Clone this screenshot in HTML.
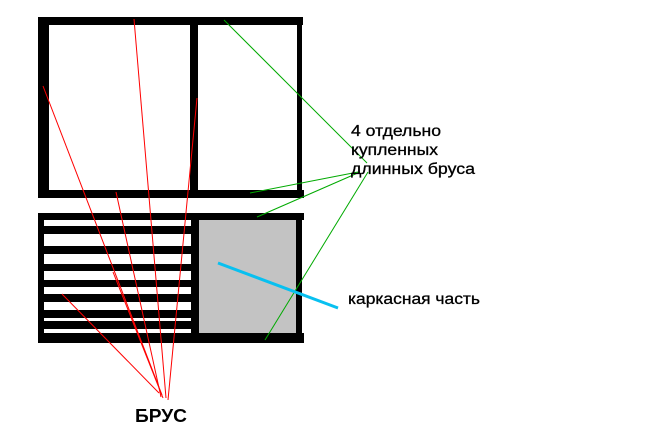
<!DOCTYPE html>
<html><head><meta charset="utf-8"><style>
body{margin:0;background:#fff;width:663px;height:448px;overflow:hidden}
svg{display:block}
text{font-family:"Liberation Sans",Arial,sans-serif}
</style></head><body>
<svg width="663" height="448" viewBox="0 0 663 448">
<rect width="663" height="448" fill="#fff"/>
<rect x="38" y="17" width="265" height="8" fill="#000"/>
<rect x="38" y="190" width="266" height="8" fill="#000"/>
<rect x="38" y="17" width="11" height="181" fill="#000"/>
<rect x="190" y="17" width="8" height="181" fill="#000"/>
<rect x="297" y="17" width="5" height="181" fill="#000"/>
<rect x="199" y="220" width="97" height="113" fill="#c3c3c3"/>
<rect x="38" y="213" width="266" height="7" fill="#000"/>
<rect x="38" y="333" width="266" height="10" fill="#000"/>
<rect x="38" y="213" width="6" height="130" fill="#000"/>
<rect x="191" y="213" width="8" height="130" fill="#000"/>
<rect x="296" y="213" width="6" height="130" fill="#000"/>
<g fill="#000">
<rect x="38" y="226" width="155" height="8"/>
<rect x="38" y="246" width="155" height="8"/>
<rect x="38" y="264" width="155" height="7"/>
<rect x="38" y="280" width="155" height="7"/>
<rect x="38" y="294" width="155" height="8"/>
<rect x="38" y="310" width="155" height="8"/>
<rect x="38" y="321" width="155" height="8"/>
</g>
<g stroke="#f00" stroke-width="1" fill="none">
<line x1="43" y1="86" x2="162" y2="395"/>
<line x1="134" y1="19" x2="166" y2="398"/>
<line x1="197" y1="98" x2="168" y2="400"/>
<line x1="116" y1="192" x2="161" y2="397"/>
<line x1="113" y1="272" x2="163" y2="398"/>
<line x1="62" y1="294" x2="159" y2="393"/>
</g>
<g stroke="#0a0" stroke-width="1" fill="none">
<line x1="224" y1="20" x2="367" y2="163"/>
<line x1="250" y1="193" x2="358" y2="172"/>
<line x1="257" y1="217" x2="360" y2="172"/>
<line x1="265" y1="340" x2="368" y2="172"/>
</g>
<line x1="218" y1="263" x2="338" y2="308" stroke="#08c0f0" stroke-width="3"/>
<g fill="#000" font-size="16" stroke="#000" stroke-width="0.3">
<text x="351" y="136" textLength="90" lengthAdjust="spacingAndGlyphs">4 отдельно</text>
<text x="351" y="155" textLength="87" lengthAdjust="spacingAndGlyphs">купленных</text>
<text x="351" y="174" textLength="124" lengthAdjust="spacingAndGlyphs">длинных бруса</text>
<text x="348" y="304" textLength="132" lengthAdjust="spacingAndGlyphs">каркасная часть</text>
</g>
<text x="135" y="422" font-size="18" font-weight="bold" fill="#000" textLength="52" lengthAdjust="spacingAndGlyphs">БРУС</text>
</svg>
</body></html>
